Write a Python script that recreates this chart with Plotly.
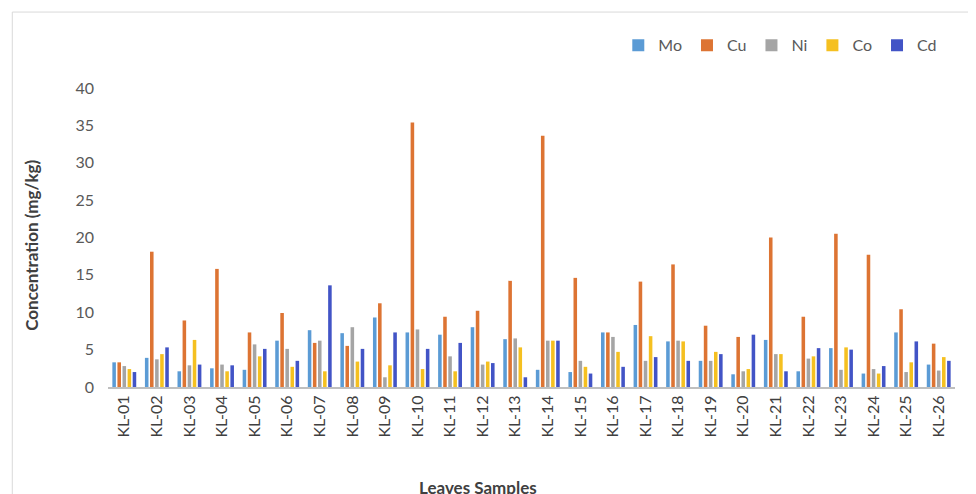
import plotly.graph_objects as go

samples = ["KL-%02d" % i for i in range(1, 27)]

mo = [3.3, 3.9, 2.1, 2.5, 2.3, 6.2, 7.6, 7.2, 9.3, 7.3, 7.0, 8.0, 6.4, 2.3, 2.0, 7.3,
      8.3, 6.1, 3.5, 1.7, 6.3, 2.1, 5.2, 1.8, 7.3, 3.0]
cu = [3.3, 18.1, 8.9, 15.8, 7.3, 9.9, 5.9, 5.5, 11.2, 35.4, 9.4, 10.2, 14.2, 33.6, 14.6, 7.3,
      14.1, 16.4, 8.2, 6.7, 20.0, 9.4, 20.5, 17.7, 10.4, 5.8]
ni = [2.8, 3.7, 2.9, 3.0, 5.7, 5.1, 6.2, 8.0, 1.3, 7.7, 4.1, 3.0, 6.5, 6.2, 3.5, 6.7,
      3.5, 6.2, 3.5, 2.1, 4.4, 3.8, 2.3, 2.4, 2.0, 2.2]
co = [2.4, 4.4, 6.3, 2.1, 4.1, 2.7, 2.1, 3.4, 2.9, 2.4, 2.1, 3.4, 5.3, 6.2, 2.7, 4.7,
      6.8, 6.1, 4.7, 2.4, 4.4, 4.1, 5.3, 1.8, 3.3, 4.0]
cd = [2.0, 5.3, 3.0, 2.9, 5.1, 3.5, 13.6, 5.1, 7.3, 5.1, 5.9, 3.2, 1.3, 6.2, 1.8, 2.7,
      4.0, 3.5, 4.4, 7.0, 2.1, 5.2, 5.0, 2.8, 6.1, 3.5]

series = [("Mo", mo, "#5B9BD5"), ("Cu", cu, "#DD7433"), ("Ni", ni, "#A5A5A5"),
          ("Co", co, "#F5C020"), ("Cd", cd, "#4254C6")]

fig = go.Figure()
for name, vals, color in series:
    fig.add_trace(go.Bar(x=samples, y=vals, name=name, marker_color=color,
                         marker_line_width=0))

# page body adds ~8px offset, so the figure is a bit smaller than the window
fig.update_layout(
    width=968, height=486,
    barmode="group", bargap=0.22, bargroupgap=0.3,
    plot_bgcolor="white", paper_bgcolor="white",
    font=dict(family="Lato, Open Sans, sans-serif", color="#595959"),
    margin=dict(l=100, r=21, t=80, b=107),
    legend=dict(orientation="h", x=0.985, xanchor="right", y=1.143, yanchor="middle",
                font=dict(size=16, color="#595959"), itemwidth=30,
                traceorder="normal"),
    showlegend=True,
)
fig.update_xaxes(showline=True, linecolor="#BFBFBF", linewidth=2, ticks="",
                 tickangle=-90, tickfont=dict(size=16, color="#404040"))
fig.update_yaxes(range=[0, 40], dtick=5, showgrid=False, zeroline=False,
                 showline=False, ticklabelstandoff=13,
                 tickfont=dict(size=16, color="#595959"))

fig.add_annotation(text="<b>Concentration (mg/kg)</b>", textangle=-90,
                   xref="paper", yref="paper", x=-0.09, y=0.475, xanchor="center",
                   showarrow=False, font=dict(size=17, color="#404040"))
fig.add_annotation(text="<b>Leaves Samples</b>", xref="paper", yref="paper",
                   x=0.437, y=-0.335, showarrow=False, yanchor="middle",
                   font=dict(size=17, color="#404040"))
fig.add_shape(type="rect", xref="paper", yref="paper", x0=-0.113, x1=1.06,
              y0=-0.5, y1=1.254, line=dict(color="#D9D9D9", width=1))

fig.write_html("out.html")
